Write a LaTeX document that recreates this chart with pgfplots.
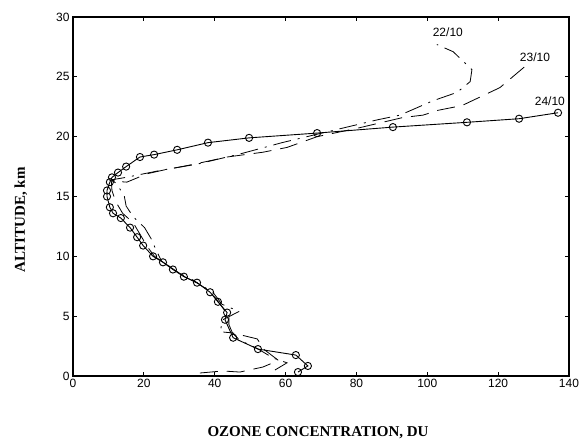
\documentclass[border=0pt]{standalone}
\usepackage{fontspec}
\setmainfont{Liberation Sans}
\newfontfamily\labfont{Liberation Serif}
\usepackage{pgfplots}
\pgfplotsset{compat=1.18}

\begin{document}
\begin{tikzpicture}[x=1pt,y=1pt]
\useasboundingbox (0,0) rectangle (580,445);
\begin{axis}[
    at={(73pt,69pt)}, anchor=south west,
    scale only axis,
    width=496pt, height=359pt,
    xmin=0, xmax=140, ymin=0, ymax=30,
    xtick={0,20,...,140}, ytick={0,5,...,30},
    tick align=inside,
    major tick length=4pt,
    axis line style={line width=1.2pt},
    every tick/.style={line width=0.8pt, black},
    tick label style={font=\fontsize{12}{12}\selectfont, /pgf/number format/assume math mode=true},
    xlabel={OZONE CONCENTRATION, DU},
    ylabel={ALTITUDE, km},
    label style={font=\labfont\bfseries\fontsize{15}{16}\selectfont},
    xlabel style={at={(axis description cs:0.494,-0.158)}, anchor=center},
    ylabel style={at={(axis description cs:-0.105,0.435)}, anchor=center},
    clip=false,
]
% 24/10
\addplot[black, line width=0.9pt, mark=o, mark size=3.6pt, mark options={line width=0.9pt}]
coordinates {
 (63.5,0.33) (66.3,0.84) (62.9,1.75) (52.2,2.25) (45.2,3.2) (42.9,4.7)
 (43.5,5.3) (40.9,6.2) (38.7,7.0) (35.0,7.8) (31.3,8.3) (28.2,8.9)
 (25.4,9.5) (22.6,10.0) (19.8,10.9) (18.1,11.6) (16.1,12.4) (13.5,13.2)
 (11.3,13.6) (10.4,14.1) (9.6,15.0) (9.6,15.5) (10.4,16.2) (11.0,16.6)
 (12.7,17.0) (15.0,17.5) (18.9,18.3) (22.9,18.5) (29.4,18.9) (38.1,19.5)
 (49.7,19.9) (68.9,20.3) (90.3,20.8) (111.2,21.2) (125.9,21.5) (136.9,22.0)
};
% 22/10
\addplot[black, line width=0.8pt, dash pattern=on 18pt off 7pt on 2pt off 7pt]
coordinates {
 (57,0.5) (60.4,1.1) (56.5,1.5) (52,2.3) (47,3.0) (45,3.6) (41.5,3.7)
 (42.3,4.7) (46.9,5.4) (42,6.0) (39.5,7.0) (35.5,7.7) (31.5,8.3) (28,9.0)
 (25,9.6) (23.5,10.5) (22,11.5) (20.2,12.4) (17,13.3) (15,14.2) (14.5,15.0)
 (12.5,16.0) (11,16.4) (15,16.6) (25,17.2) (35,17.7) (47.7,18.6) (59,19.5)
 (64.6,19.9) (85.8,21.4) (92.3,21.8) (101.6,23.0) (108.4,23.7) (112.1,24.6)
 (112.6,25.6) (107.3,27.1) (102.7,27.7)
};
% 23/10
\addplot[black, line width=0.8pt, dash pattern=on 18pt off 9pt]
coordinates {
 (35.8,0.25) (42.3,0.42) (47.1,0.33) (53.6,0.75) (58,1.3) (54,2.2) (52,3.1)
 (45,3.6) (44,4.3) (44,5.0) (42,5.8) (40,6.6) (37.5,7.3) (34,8.0) (30,8.6)
 (26.5,9.3) (23,10.0) (21,10.8) (19,11.8) (17,12.8) (14,13.6) (12,14.6)
 (11,15.5) (10.8,16.3) (15.2,16.2) (20.9,16.9) (25.4,17.2) (32.5,17.6)
 (37.3,17.9) (43.5,18.3) (53.6,18.7) (60.4,19.1) (68.9,20.0) (80.2,20.7)
 (93.1,21.6) (98.8,21.8) (103,22.2) (109.8,22.6) (120.5,24.1) (128.1,26.0)
};
\node[font=\fontsize{12}{12}\selectfont] at (axis cs:105.8,28.7) {22/10};
\node[font=\fontsize{12}{12}\selectfont] at (axis cs:130.4,26.65) {23/10};
\node[font=\fontsize{12}{12}\selectfont] at (axis cs:134.6,22.98) {24/10};
\end{axis}
\end{tikzpicture}
\end{document}
